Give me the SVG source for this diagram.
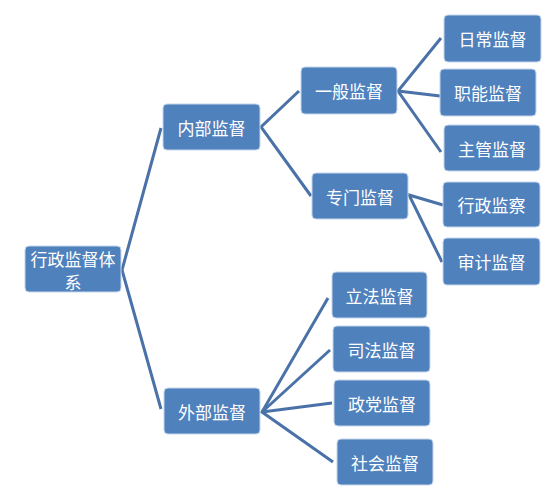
<svg xmlns="http://www.w3.org/2000/svg" width="555" height="494" viewBox="0 0 555 494">
<style>
.box{fill:#4f81bd;stroke:#c5d5ea;stroke-width:1}
.t{fill:#ffffff;font-family:"Noto Sans CJK SC","Noto Sans CJK JP",sans-serif;font-size:17px;text-anchor:middle;dominant-baseline:central}
.c{fill:none;stroke:#4a72a8;stroke-width:3;stroke-linejoin:miter}
</style>
<rect width="555" height="494" fill="#ffffff"/>
<g id="connectors">
<polyline class="c" points="161,128 122,270 161,409"/>
<polyline class="c" points="299,91 261,127 311,196"/>
<polyline class="c" points="441,38 398,91 441,152"/>
<line class="c" x1="398" y1="91" x2="440" y2="96"/>
<polyline class="c" points="443,205 409,195 442,262"/>
<polyline class="c" points="328,298 262,412 333,462"/>
<line class="c" x1="262" y1="412" x2="330" y2="350"/>
<line class="c" x1="262" y1="412" x2="332" y2="403"/>
</g>
<g id="root"><rect class="box" x="25" y="246" width="96" height="46" rx="4"/><text class="t" x="73" y="258">行政监督体</text><text class="t" x="73" y="281">系</text></g>
<g id="neibu"><rect class="box" x="163" y="104" width="97" height="46" rx="4"/><text class="t" x="211.5" y="127">内部监督</text></g>
<g id="waibu"><rect class="box" x="164" y="388" width="96" height="46" rx="4"/><text class="t" x="212" y="411">外部监督</text></g>
<g id="yiban"><rect class="box" x="301" y="67" width="96" height="47" rx="4"/><text class="t" x="349" y="90.5">一般监督</text></g>
<g id="zhuanmen"><rect class="box" x="312" y="173" width="96" height="46" rx="4"/><text class="t" x="360" y="196">专门监督</text></g>
<g id="richang"><rect class="box" x="444" y="15" width="97" height="47" rx="4"/><text class="t" x="492.5" y="38.5">日常监督</text></g>
<g id="zhineng"><rect class="box" x="440" y="69" width="96" height="47" rx="4"/><text class="t" x="488" y="92.5">职能监督</text></g>
<g id="zhuguan"><rect class="box" x="444" y="125" width="96" height="46" rx="4"/><text class="t" x="492" y="148">主管监督</text></g>
<g id="xingzheng"><rect class="box" x="443" y="182" width="97" height="45" rx="4"/><text class="t" x="491.5" y="204.5">行政监察</text></g>
<g id="shenji"><rect class="box" x="443" y="238" width="97" height="47" rx="4"/><text class="t" x="491.5" y="261.5">审计监督</text></g>
<g id="lifa"><rect class="box" x="332" y="272" width="95" height="46" rx="4"/><text class="t" x="379.5" y="295">立法监督</text></g>
<g id="sifa"><rect class="box" x="333" y="326" width="97" height="46" rx="4"/><text class="t" x="381.5" y="349">司法监督</text></g>
<g id="zhengdang"><rect class="box" x="334" y="380" width="96" height="46" rx="4"/><text class="t" x="382" y="403">政党监督</text></g>
<g id="shehui"><rect class="box" x="337" y="439" width="96" height="46" rx="4"/><text class="t" x="385" y="462">社会监督</text></g>
</svg>
